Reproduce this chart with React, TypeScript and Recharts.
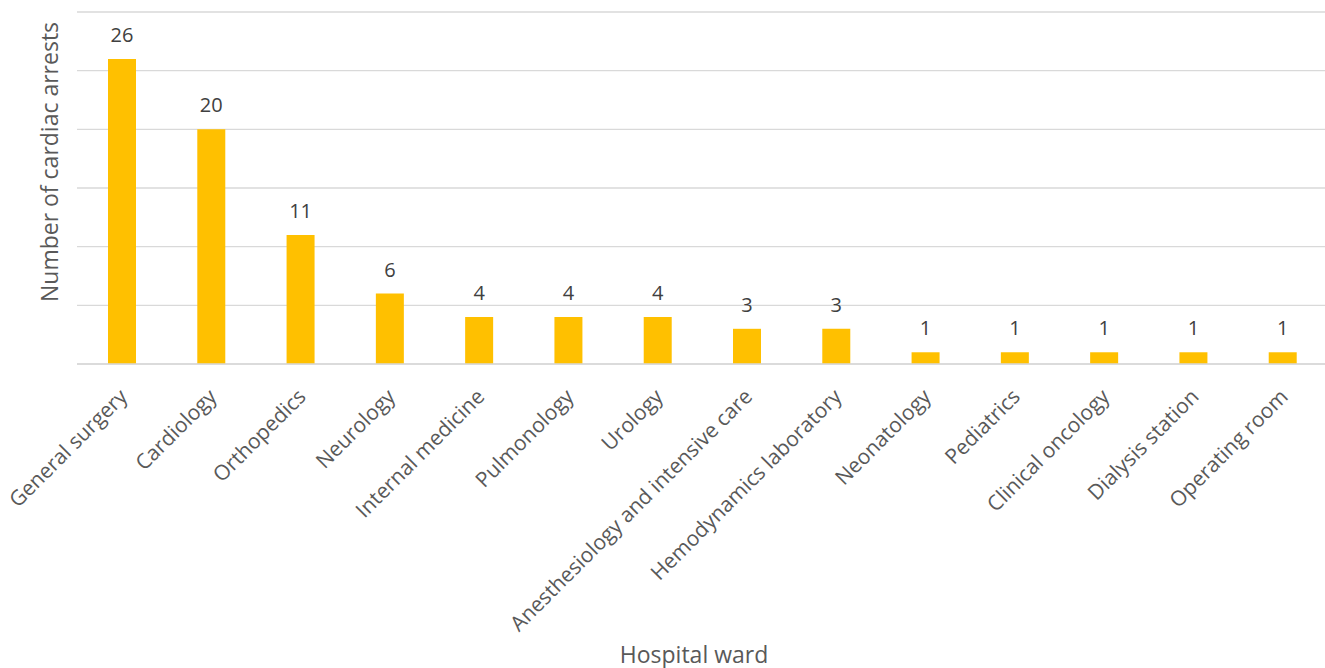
import React from 'react';
import { BarChart, Bar, XAxis, YAxis, CartesianGrid, LabelList, Label } from 'recharts';

const wards = [
  'General surgery', 'Cardiology', 'Orthopedics', 'Neurology', 'Internal medicine',
  'Pulmonology', 'Urology', 'Anesthesiology and intensive care', 'Hemodynamics laboratory',
  'Neonatology', 'Pediatrics', 'Clinical oncology', 'Dialysis station', 'Operating room',
];
const arrests = [26, 20, 11, 6, 4, 4, 4, 3, 3, 1, 1, 1, 1, 1];
const yTicks = [0, 5, 10, 15, 20, 25, 30];

const data = wards.map((w, i) => ({ ward: w, value: arrests[i] }));

const FONT = '"Open Sans", sans-serif';

const AngledTick = (props: any) => {
  const { x, y, payload } = props;
  return (
    <g transform={`translate(${x + 2},${y + 21})`}>
      <text transform="rotate(-45)" textAnchor="end" fontFamily={FONT} fontSize={21} fill="#595959" dy={7}>
        {payload.value}
      </text>
    </g>
  );
};

const EmptyTick = () => <g />;

const YTitle = (props: any) => {
  const vb = props.viewBox || {};
  const cx = (vb.x || 0) + (vb.width || 0) / 2 + 10;
  const cy = (vb.y || 0) + (vb.height || 0) / 2 - 26;
  return (
    <text x={cx} y={cy} transform={`rotate(-90, ${cx}, ${cy})`} textAnchor="middle" dominantBaseline="central"
      fontFamily={FONT} fontSize={23} fill="#595959">
      Number of cardiac arrests
    </text>
  );
};

const XTitle = (props: any) => {
  const vb = props.viewBox || {};
  const cx = (vb.x || 0) + (vb.width || 0) / 2 - 8;
  return (
    <text x={cx} y={663} textAnchor="middle" fontFamily={FONT} fontSize={23} fill="#595959">
      Hospital ward
    </text>
  );
};

export default function App() {
  return (
    <div style={{ position: 'absolute', left: 0, top: 0, width: 1325, height: 668, background: '#fff', overflow: 'hidden' }}>
      <BarChart width={1327} height={668} data={data} margin={{ top: 12, right: 0, left: 0, bottom: 0 }}>
        <CartesianGrid vertical={false} stroke="#d9d9d9" strokeWidth={1.3} />
        <XAxis dataKey="ward" interval={0} tick={<AngledTick />} tickLine={false} axisLine={{ stroke: '#d9d9d9', strokeWidth: 1.5 }} height={304}>
          <Label content={<XTitle />} />
        </XAxis>
        <YAxis domain={[0, 30]} ticks={yTicks} width={77} tick={<EmptyTick />} axisLine={false} tickLine={false}>
          <Label content={<YTitle />} />
        </YAxis>
        <Bar dataKey="value" fill="#ffc000" barSize={28} isAnimationActive={false}>
          <LabelList dataKey="value" position="top" offset={17} fontFamily={FONT} fontSize={20} fill="#404040" />
        </Bar>
      </BarChart>
    </div>
  );
}
